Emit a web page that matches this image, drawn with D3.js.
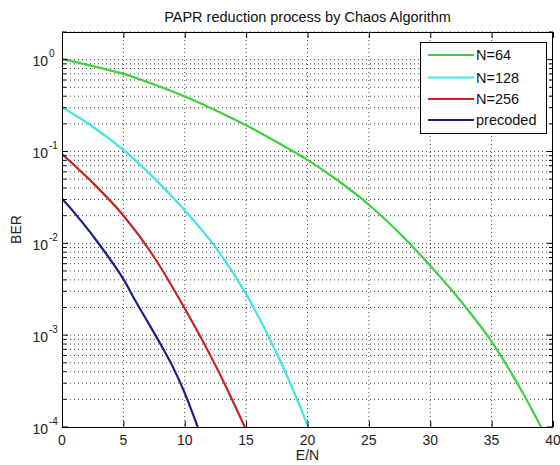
<!DOCTYPE html>
<html>
<head>
<meta charset="utf-8">
<script src="https://cdn.jsdelivr.net/npm/d3@7"></script>
<style>
  body { margin: 0; background: #fff; }
  svg { display: block; font-family: "Liberation Sans", Arial, sans-serif; }
</style>
</head>
<body>
<div id="chart"></div>
<script>
// ---------- data ----------
const title = "PAPR reduction process by Chaos Algorithm";
const xLabel = "E/N";
const yLabel = "BER";
const xTicks = [0, 5, 10, 15, 20, 25, 30, 35, 40];
const yExps = [0, -1, -2, -3, -4];

const seriesNames = ["N=64", "N=128", "N=256", "precoded"];
const seriesColors = ["#3fcf3f", "#44e4e4", "#c02424", "#1c1c88"];

const n64X = [0, 2.5, 5, 7.5, 10, 12.5, 15, 17.5, 20, 22.5, 25, 27.5, 30, 32.5, 35, 37.5, 40];
const n64Y = [1.02, 0.85, 0.70, 0.537, 0.398, 0.282, 0.193, 0.127, 0.081, 0.048, 0.0263, 0.0129, 0.0057, 0.00234, 8.5e-4, 2.4e-4, 5.6e-5];

const n128X = [0, 2.5, 5, 7.5, 10, 12.5, 15, 17.5, 20, 22];
const n128Y = [0.303, 0.186, 0.104, 0.0513, 0.0229, 0.0091, 0.0028, 6.3e-4, 1.05e-4, 2e-5];

const n256X = [0, 2.5, 5, 7.5, 10, 12.5, 15, 16];
const n256Y = [0.094, 0.0457, 0.0201, 0.0071, 0.00195, 4.7e-4, 9.3e-5, 4.7e-5];

const preX = [0, 1, 2, 3, 4, 5, 6, 7, 8, 9, 10, 11, 12];
const preY = [0.0306, 0.0216, 0.0148, 0.0099, 0.00646, 0.00407, 0.00234, 0.00138, 8.1e-4, 4.6e-4, 2.34e-4, 1.05e-4, 4.4e-5];

const seriesX = [n64X, n128X, n256X, preX];
const seriesY = [n64Y, n128Y, n256Y, preY];

// ---------- layout ----------
const W = 560, H = 465;
const L = 62, R = 553, T = 32, B = 427;

const svg = d3.select("#chart").append("svg").attr("width", W).attr("height", H);
svg.append("rect").attr("width", W).attr("height", H).attr("fill", "#fff");

const x = d3.scaleLinear().domain([0, 40]).range([L, R]);
const y = d3.scaleLog().domain([1e-4, 2]).range([B, T]);

// grid
const gridColor = "#444";
const minorVals = [];
for (let e = -4; e <= 0; e++) for (let m = 1; m <= 9; m++) {
  const v = m * Math.pow(10, e);
  if (v > 1e-4 && v <= 2) minorVals.push(v);
}
const grid = svg.append("g");
grid.selectAll("line.h").data(minorVals).join("line")
  .attr("x1", L).attr("x2", R)
  .attr("y1", d => y(d)).attr("y2", d => y(d))
  .attr("stroke", gridColor).attr("stroke-width", 1)
  .attr("stroke-dasharray", "1,3");
grid.selectAll("line.v").data(xTicks.slice(1, -1)).join("line")
  .attr("y1", T).attr("y2", B)
  .attr("x1", d => x(d)).attr("x2", d => x(d))
  .attr("stroke", gridColor).attr("stroke-width", 1)
  .attr("stroke-dasharray", "1,3");

// clip
svg.append("clipPath").attr("id", "clip").append("rect")
  .attr("x", L).attr("y", T).attr("width", R - L).attr("height", B - T);

// lines
const line = d3.line().x(d => x(d[0])).y(d => y(d[1])).curve(d3.curveMonotoneX);
const lg = svg.append("g").attr("clip-path", "url(#clip)");
seriesNames.forEach((name, i) => {
  const pts = seriesX[i].map((v, j) => [v, seriesY[i][j]]);
  lg.append("path").datum(pts).attr("d", line)
    .attr("fill", "none").attr("stroke", seriesColors[i])
    .attr("stroke-width", 2.2).attr("stroke-linejoin", "round");
});

// axes with inward ticks
const axB = d3.axisBottom(x).tickValues(xTicks).tickSize(-6).tickFormat("");
const axT = d3.axisTop(x).tickValues(xTicks).tickSize(-6).tickFormat("");
const majorY = yExps.map(e => Math.pow(10, e));
const minorY = minorVals.filter(v => !majorY.some(m => Math.abs(m - v) < 1e-12));
const addY = (g, orient) => {
  const sgn = orient === "left" ? 1 : -1;
  const xx = orient === "left" ? L : R;
  g.selectAll("line.maj").data(majorY).join("line")
    .attr("x1", xx).attr("x2", xx + sgn * 6)
    .attr("y1", d => y(d)).attr("y2", d => y(d)).attr("stroke", "#000");
  g.selectAll("line.min").data(minorY).join("line")
    .attr("x1", xx).attr("x2", xx + sgn * 4)
    .attr("y1", d => y(d)).attr("y2", d => y(d)).attr("stroke", "#000");
};
const gb = svg.append("g").attr("transform", `translate(0,${B})`).call(axB);
const gt = svg.append("g").attr("transform", `translate(0,${T})`).call(axT);
[gb, gt].forEach(g => { g.select(".domain").remove(); g.selectAll("line").attr("stroke", "#000"); });
addY(svg.append("g"), "left");
addY(svg.append("g"), "right");

// frame
svg.append("rect").attr("x", L + 0.5).attr("y", T + 0.5)
  .attr("width", R - L - 1).attr("height", B - T)
  .attr("fill", "none").attr("stroke", "#000").attr("stroke-width", 1);

// tick labels
svg.append("g").selectAll("text").data(xTicks).join("text")
  .attr("x", d => x(d)).attr("y", 445)
  .attr("text-anchor", "middle").attr("font-size", 14).attr("fill", "#222")
  .text(d => d);

const yl = svg.append("g").selectAll("g").data(yExps).join("g");
yl.append("text")
  .attr("x", 48).attr("y", d => y(Math.pow(10, d)) + 6.5)
  .attr("text-anchor", "end").attr("font-size", 14).attr("fill", "#222")
  .text("10");
yl.append("text")
  .attr("x", 49).attr("y", d => y(Math.pow(10, d)) - 2.5)
  .attr("text-anchor", "start").attr("font-size", 10).attr("fill", "#222")
  .text(d => d);

// axis labels
svg.append("text").attr("x", (L + R) / 2).attr("y", 460)
  .attr("text-anchor", "middle").attr("font-size", 14).attr("fill", "#222").text(xLabel);
svg.append("text").attr("transform", `translate(21,${(T + B) / 2}) rotate(-90)`)
  .attr("text-anchor", "middle").attr("font-size", 14).attr("fill", "#222").text(yLabel);

// title
svg.append("text").attr("x", (L + R) / 2).attr("y", 22)
  .attr("text-anchor", "middle").attr("font-size", 14.5).attr("fill", "#111").text(title);

// legend
const lgX = 420, lgY = 42, lgW = 126, lgH = 91;
const leg = svg.append("g");
leg.append("rect").attr("x", lgX + 0.5).attr("y", lgY + 0.5).attr("width", lgW).attr("height", lgH)
  .attr("fill", "#fff").attr("stroke", "#000");
const rowY = [55, 77.5, 99, 120];
seriesNames.forEach((name, i) => {
  leg.append("line").attr("x1", 428).attr("x2", 474)
    .attr("y1", rowY[i]).attr("y2", rowY[i])
    .attr("stroke", seriesColors[i]).attr("stroke-width", 2.2);
  leg.append("text").attr("x", 476).attr("y", rowY[i] + 5)
    .attr("font-size", 14.5).attr("fill", "#111").text(name);
});
</script>
</body>
</html>
